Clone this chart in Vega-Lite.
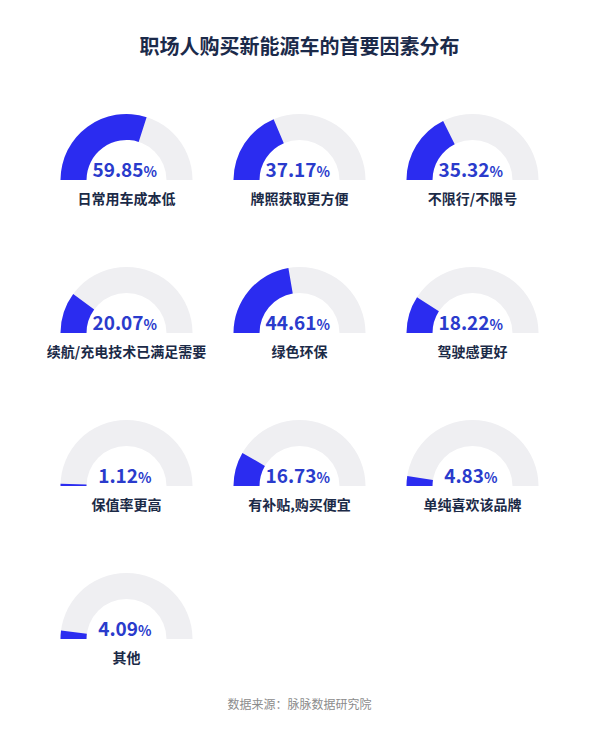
{
  "$schema": "https://vega.github.io/schema/vega-lite/v6.json",
  "background": "white",
  "padding": {"left": 40, "top": 38, "right": 0, "bottom": 0},
  "title": {"text": "职场人购买新能源车的首要因素分布", "font": "Noto Sans CJK SC", "fontSize": 20, "fontWeight": "bold", "color": "#1b2a4a", "anchor": "middle", "offset": 50},
  "data": {"values": [
    {"label": "日常用车成本低", "value": 59.85},
    {"label": "牌照获取更方便", "value": 37.17},
    {"label": "不限行/不限号", "value": 35.32},
    {"label": "续航/充电技术已满足需要", "value": 20.07},
    {"label": "绿色环保", "value": 44.61},
    {"label": "驾驶感更好", "value": 18.22},
    {"label": "保值率更高", "value": 1.12},
    {"label": "有补贴,购买便宜", "value": 16.73},
    {"label": "单纯喜欢该品牌", "value": 4.83},
    {"label": "其他", "value": 4.09}
  ]},
  "vconcat": [{
    "title": {"text": "数据来源：脉脉数据研究院", "orient": "bottom", "font": "Noto Sans CJK SC", "fontSize": 12, "fontWeight": "normal", "color": "#8c8c8c", "anchor": "middle", "offset": 29},
    "facet": {"field": "label", "type": "nominal", "title": null,
      "header": {"labels": false, "title": null, "labelExpr": "''", "labelFontSize": 0, "labelPadding": 0, "titlePadding": 0},
      "sort": ["日常用车成本低", "牌照获取更方便", "不限行/不限号", "续航/充电技术已满足需要", "绿色环保", "驾驶感更好", "保值率更高", "有补贴,购买便宜", "单纯喜欢该品牌", "其他"]},
    "columns": 3,
    "spacing": {"row": 49, "column": 0},
    "spec": {
      "width": 173,
      "height": 104,
      "layer": [
        {
          "mark": {"type": "arc", "outerRadius": 66, "innerRadius": 40, "color": "#efeff2"},
          "encoding": {
            "theta": {"datum": 100, "type": "quantitative", "scale": {"domain": [0, 100], "range": [-1.5707963, 1.5707963]}},
            "theta2": {"datum": 0},
            "y": {"datum": 0, "type": "quantitative", "scale": {"domain": [-32, 72], "nice": false, "zero": false}, "axis": null}
          }
        },
        {
          "mark": {"type": "arc", "outerRadius": 66, "innerRadius": 40, "color": "#2b2cf0"},
          "encoding": {
            "theta": {"field": "value", "type": "quantitative", "stack": null},
            "theta2": {"datum": 0},
            "y": {"datum": 0, "type": "quantitative"}
          }
        },
        {
          "transform": [{"filter": "datum.value >= 10"}],
          "layer": [
            {
              "mark": {"type": "text", "font": "Noto Sans CJK SC", "fontSize": 19, "fontWeight": "bold", "color": "#2a3bcc", "align": "right", "baseline": "alphabetic", "dx": 17},
              "encoding": {"text": {"field": "value", "type": "quantitative", "format": ".2f"}, "y": {"datum": 3, "type": "quantitative"}}
            },
            {
              "mark": {"type": "text", "font": "Noto Sans CJK SC", "fontSize": 14, "fontWeight": "bold", "color": "#2a3bcc", "align": "left", "baseline": "alphabetic", "dx": 17, "text": "%"},
              "encoding": {"y": {"datum": 3, "type": "quantitative"}}
            }
          ]
        },
        {
          "transform": [{"filter": "datum.value < 10"}],
          "layer": [
            {
              "mark": {"type": "text", "font": "Noto Sans CJK SC", "fontSize": 19, "fontWeight": "bold", "color": "#2a3bcc", "align": "right", "baseline": "alphabetic", "dx": 11.5},
              "encoding": {"text": {"field": "value", "type": "quantitative", "format": ".2f"}, "y": {"datum": 3, "type": "quantitative"}}
            },
            {
              "mark": {"type": "text", "font": "Noto Sans CJK SC", "fontSize": 14, "fontWeight": "bold", "color": "#2a3bcc", "align": "left", "baseline": "alphabetic", "dx": 11.5, "text": "%"},
              "encoding": {"y": {"datum": 3, "type": "quantitative"}}
            }
          ]
        },
        {
          "mark": {"type": "text", "font": "Noto Sans CJK SC", "fontSize": 14, "fontWeight": "bold", "color": "#1b2a47", "align": "center", "baseline": "middle"},
          "encoding": {"text": {"field": "label", "type": "nominal"}, "y": {"datum": -20, "type": "quantitative"}}
        }
      ]
    }
  }],
  "config": {"view": {"stroke": null}}
}
